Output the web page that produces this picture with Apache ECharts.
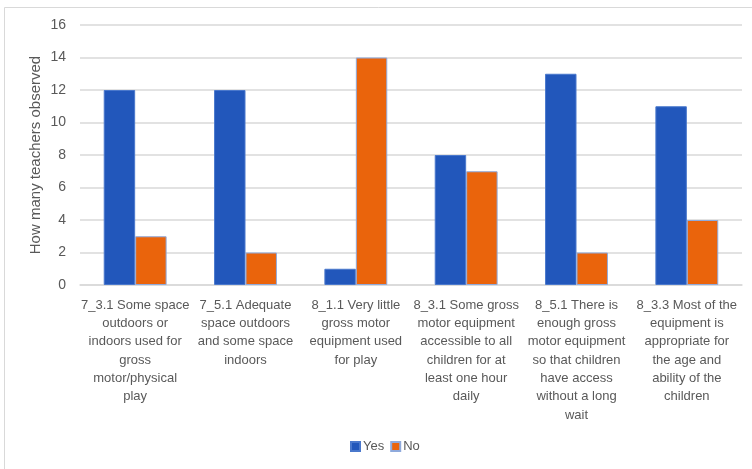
<!DOCTYPE html>
<html>
<head>
<meta charset="utf-8">
<script src="https://cdn.jsdelivr.net/npm/echarts@6/dist/echarts.min.js"></script>
<style>
  html, body { margin: 0; padding: 0; background: #fff; }
  #chart { width: 752px; height: 469px; }
</style>
</head>
<body>
<div id="chart"></div>
<script>
// Observation items (line breaks follow the wrapping under each group)
const categories = [
  '7_3.1 Some space\noutdoors or\nindoors used for\ngross\nmotor/physical\nplay',
  '7_5.1 Adequate\nspace outdoors\nand some space\nindoors',
  '8_1.1 Very little\ngross motor\nequipment used\nfor play',
  '8_3.1 Some gross\nmotor equipment\naccessible to all\nchildren for at\nleast one hour\ndaily',
  '8_5.1 There is\nenough gross\nmotor equipment\nso that children\nhave access\nwithout a long\nwait',
  '8_3.3 Most of the\nequipment is\nappropriate for\nthe age and\nability of the\nchildren'
];
const yesCounts = [12, 12, 1, 8, 13, 11];
const noCounts = [3, 2, 14, 7, 2, 4];
const yTicks = { min: 0, max: 16, interval: 2 };

const textColor = '#595959';
const fontFamily = 'Liberation Sans, Arial, sans-serif';

const chart = echarts.init(document.getElementById('chart'), null, { renderer: 'canvas' });
chart.setOption({
  animation: false,
  backgroundColor: '#ffffff',
  textStyle: { fontFamily: fontFamily, color: textColor },
  graphic: [{
    type: 'rect',
    shape: { x: 4.5, y: 7.5, width: 800, height: 500 },
    style: { fill: 'none', stroke: '#D9D9D9', lineWidth: 1 },
    silent: true
  }],
  grid: { left: 80, right: 10, top: 25, bottom: 184 },
  legend: {
    bottom: 11,
    left: 345,
    itemWidth: 9,
    itemHeight: 9,
    itemGap: 6,
    icon: 'rect',
    textStyle: { fontSize: 13, color: textColor, fontFamily: fontFamily, padding: [0, 0, 0, -2] },
    data: ['Yes', 'No']
  },
  xAxis: {
    type: 'category',
    data: categories,
    axisLine: { lineStyle: { color: '#D9D9D9', width: 1.5 } },
    axisTick: { show: false },
    axisLabel: {
      interval: 0,
      fontSize: 13,
      lineHeight: 18.3,
      color: textColor,
      fontFamily: fontFamily,
      margin: 11,
      align: 'center'
    }
  },
  yAxis: {
    type: 'value',
    min: yTicks.min,
    max: yTicks.max,
    interval: yTicks.interval,
    name: 'How many teachers observed',
    nameLocation: 'middle',
    nameGap: 37,
    nameMoveOverlap: false,
    nameTextStyle: { fontSize: 15, color: textColor, fontFamily: fontFamily },
    axisLine: { show: false },
    axisTick: { show: false },
    axisLabel: { fontSize: 14, color: textColor, fontFamily: fontFamily, margin: 14 },
    splitLine: { lineStyle: { color: '#D9D9D9', width: 1.5 } }
  },
  series: [
    {
      name: 'Yes',
      type: 'bar',
      data: yesCounts,
      barGap: '0%',
      barCategoryGap: '43%',
      itemStyle: { color: '#2257BB', borderColor: '#4A78CC', borderWidth: 1 }
    },
    {
      name: 'No',
      type: 'bar',
      data: noCounts,
      barGap: '0%',
      barCategoryGap: '43%',
      itemStyle: { color: '#EA640C', borderColor: '#8FAADC', borderWidth: 1 }
    }
  ]
});
</script>
</body>
</html>
